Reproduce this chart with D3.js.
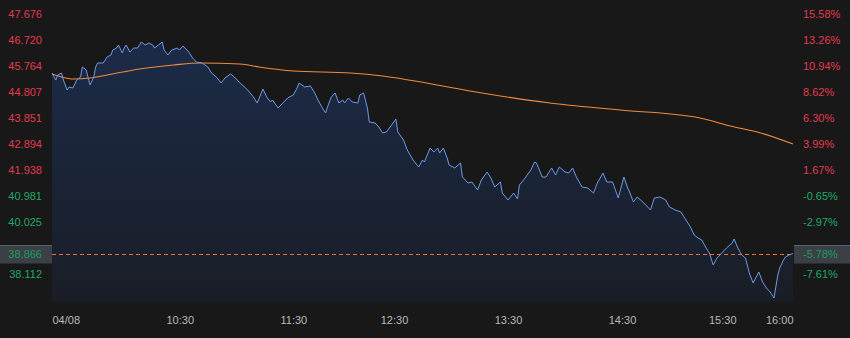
<!DOCTYPE html>
<html>
<head>
<meta charset="utf-8">
<script src="https://cdn.jsdelivr.net/npm/d3@7"></script>
<style>
  html, body { margin: 0; padding: 0; background: #181818; }
  svg { display: block; font-family: "Liberation Sans", Arial, sans-serif; }
</style>
</head>
<body>
<div id="chart"></div>
<script>
// minutes after 09:30 and price
const minutes = [0,2,3,5,6,8,9,11,13,15,16,18,20,22,23,24,27,29,31,32,34,35,37,38,39,41,43,45,47,49,51,53,54,56,58,59,61,63,66,67,69,72,74,76,79,82,84,87,89,91,94,96,99,103,106,108,111,113,115,116,119,122,124,127,129,130,133,136,138,140,142,144,145,147,149,151,153,154,156,158,161,162,164,166,167,170,172,174,176,178,181,182,185,187,190,193,195,196,199,201,203,204,206,208,209,212,215,216,219,221,224,226,229,231,233,236,237,240,243,245,246,249,252,254,255,258,260,263,265,267,270,272,274,276,279,282,285,287,290,292,295,296,298,301,303,304,306,308,311,315,317,320,323,325,328,331,333,336,338,340,342,344,346,348,350,353,355,358,359,361,363,365,367,369,372,374,376,378,380,382,383,385,386,388,390];
const prices = [45.506,45.248,45.432,45.506,45.248,44.880,44.991,44.954,45.248,45.359,45.726,45.616,45.064,45.359,45.726,45.874,45.874,46.094,46.168,46.352,46.425,46.536,46.241,46.425,46.536,46.278,46.425,46.425,46.646,46.536,46.609,46.536,46.425,46.536,46.646,46.352,46.168,46.352,46.425,46.352,46.499,46.278,46.057,45.910,45.874,45.726,45.506,45.322,45.138,45.322,45.469,45.359,45.138,44.880,44.623,44.402,44.917,44.623,44.439,44.512,44.218,44.439,44.586,44.696,44.954,45.138,44.991,45.027,44.807,44.512,44.255,44.034,44.255,44.623,44.770,44.402,44.512,44.402,44.586,44.439,44.402,44.696,44.770,44.218,43.703,43.666,43.519,43.299,43.335,43.519,43.814,43.335,43.041,42.673,42.305,42.048,42.305,42.232,42.747,42.600,42.747,42.563,42.747,42.379,42.121,42.011,42.195,41.680,41.459,41.496,41.202,41.570,41.864,41.643,41.312,41.496,41.091,40.834,41.091,40.871,41.386,41.643,41.938,42.232,42.195,41.680,41.680,42.011,41.754,42.048,41.864,41.827,42.011,41.680,41.312,41.275,41.091,41.459,41.827,41.496,41.496,41.312,40.908,41.680,41.275,41.128,40.760,40.944,40.760,40.466,40.908,40.944,40.834,40.577,40.466,40.393,40.172,39.841,39.547,39.436,39.363,39.105,38.884,38.443,38.700,38.921,39.068,39.252,39.399,39.068,38.811,38.700,38.149,37.781,38.185,37.818,37.597,37.450,37.229,38.075,38.333,38.627,38.737,38.811,38.866];

// average price line
const avgMinutes = [0,5,11,20,29,46,64,78,99,109,127,157,174,197,220,262,299,341,357,373,390];
const avgPrices = [45.469,45.359,45.285,45.322,45.432,45.653,45.800,45.874,45.837,45.726,45.579,45.506,45.395,45.138,44.844,44.402,44.145,43.850,43.556,43.299,42.894];

const priceTicks = [47.676,46.720,45.764,44.807,43.851,42.894,41.938,40.981,40.025,39.068,38.112];
const pctTicks = ["15.58%","13.26%","10.94%","8.62%","6.30%","3.99%","1.67%","-0.65%","-2.97%","-5.29%","-7.61%"];
const timeTicks = [0,60,120,180,240,300,360,390];
const timeLabels = ["04/08","10:30","11:30","12:30","13:30","14:30","15:30","16:00"];
const prevClose = 41.25;
const lastPrice = 38.866;
const lastPct = "-5.78%";

const W = 850, H = 338;
const plotLeft = 52, plotRight = 793, plotTop = 14, tickBottom = 274, plotBottom = 302;
const RED = "#e23a4e", GREEN = "#1fa866";

const svg = d3.select("#chart").append("svg")
    .attr("width", W).attr("height", H);

svg.append("rect").attr("width", W).attr("height", H).attr("fill", "#181818");

const x = d3.scaleLinear().domain([0, 390]).range([plotLeft, plotRight]);
const y = d3.scaleLinear().domain([priceTicks[priceTicks.length - 1], priceTicks[0]]).range([tickBottom, plotTop]);

const series = minutes.map((m, i) => ({m: m, p: prices[i]}));
const avg = avgMinutes.map((m, i) => ({m: m, p: avgPrices[i]}));

// gradient under the price line
const defs = svg.append("defs");
const grad = defs.append("linearGradient")
    .attr("id", "fillGrad")
    .attr("gradientUnits", "userSpaceOnUse")
    .attr("x1", 0).attr("x2", 0).attr("y1", 40).attr("y2", plotBottom);
grad.append("stop").attr("offset", "0%").attr("stop-color", "#1c2b48");
grad.append("stop").attr("offset", "100%").attr("stop-color", "#191d26");

const area = d3.area()
    .x(d => x(d.m))
    .y0(plotBottom)
    .y1(d => y(d.p));

svg.append("path")
    .datum(series)
    .attr("d", area)
    .attr("fill", "url(#fillGrad)");

const ly = Math.round(y(lastPrice)) + 0.5;

// last price dashed line
svg.append("line")
    .attr("x1", plotLeft).attr("x2", plotRight)
    .attr("y1", ly).attr("y2", ly)
    .attr("stroke", "#e8703a")
    .attr("stroke-width", 1)
    .attr("stroke-dasharray", "4,3");

svg.append("path")
    .datum(avg)
    .attr("d", d3.line().x(d => x(d.m)).y(d => y(d.p)).curve(d3.curveMonotoneX))
    .attr("fill", "none")
    .attr("stroke", "#f08a3c")
    .attr("stroke-width", 1.1);

svg.append("path")
    .datum(series)
    .attr("d", d3.line().x(d => x(d.m)).y(d => y(d.p)))
    .attr("fill", "none")
    .attr("stroke", "#6d98e8")
    .attr("stroke-width", 1);

// ticks hidden behind the last price tags
const hidden = d => Math.abs(y(d) - ly) < 12;

// left price axis
const yLeft = svg.append("g")
    .attr("transform", "translate(" + (plotLeft - 10) + ",0)")
    .call(d3.axisLeft(y).tickValues(priceTicks.filter(d => !hidden(d))).tickFormat(d3.format(".3f")).tickSize(0).tickPadding(0));
yLeft.select(".domain").remove();
yLeft.selectAll("text")
    .attr("font-size", 11)
    .attr("font-family", "Liberation Sans, Arial, sans-serif")
    .attr("fill", d => d >= prevClose ? RED : GREEN);

// right percent axis
const yRight = svg.append("g")
    .attr("transform", "translate(" + (plotRight + 10) + ",0)")
    .call(d3.axisRight(y).tickValues(priceTicks.filter(d => !hidden(d))).tickFormat(d => pctTicks[priceTicks.indexOf(d)]).tickSize(0).tickPadding(0));
yRight.select(".domain").remove();
yRight.selectAll("text")
    .attr("font-size", 11)
    .attr("font-family", "Liberation Sans, Arial, sans-serif")
    .attr("fill", d => d >= prevClose ? RED : GREEN);

// time axis
const xAxis = svg.append("g")
    .attr("transform", "translate(0," + 316 + ")")
    .call(d3.axisBottom(x).tickValues(timeTicks).tickFormat((d, i) => timeLabels[i]).tickSize(0).tickPadding(0));
xAxis.select(".domain").remove();
xAxis.selectAll("text")
    .attr("font-size", 11)
    .attr("font-family", "Liberation Sans, Arial, sans-serif")
    .attr("fill", "#b8b8b8")
    .attr("text-anchor", (d, i) => i < 3 ? "start" : (i < 6 ? "middle" : "end"));

// last price tags
svg.append("rect")
    .attr("x", 0).attr("y", ly - 9).attr("width", plotLeft).attr("height", 18)
    .attr("fill", "#3a4045");
svg.append("line")
    .attr("x1", 0).attr("x2", plotLeft).attr("y1", ly - 9).attr("y2", ly - 9)
    .attr("stroke", "#5a6065").attr("stroke-width", 1);
svg.append("text")
    .attr("x", plotLeft - 10).attr("y", ly).attr("dy", "0.35em")
    .attr("text-anchor", "end")
    .attr("font-size", 11)
    .attr("fill", "#1f9a5e")
    .text(d3.format(".3f")(lastPrice));

svg.append("rect")
    .attr("x", plotRight + 1).attr("y", ly - 9).attr("width", W - plotRight - 1).attr("height", 18)
    .attr("fill", "#3a4045");
svg.append("line")
    .attr("x1", plotRight + 1).attr("x2", W).attr("y1", ly - 9).attr("y2", ly - 9)
    .attr("stroke", "#5a6065").attr("stroke-width", 1);
svg.append("text")
    .attr("x", plotRight + 10).attr("y", ly).attr("dy", "0.35em")
    .attr("font-size", 11)
    .attr("fill", "#1f9a5e")
    .text(lastPct);
</script>
</body>
</html>
